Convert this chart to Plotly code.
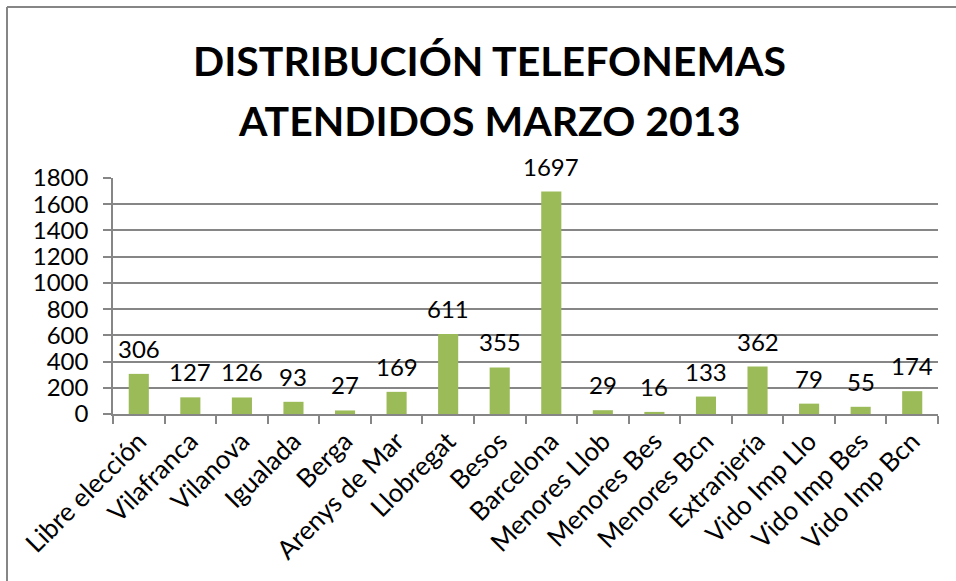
import plotly.graph_objects as go

categories = ["Libre elección", "Vilafranca", "Vilanova", "Igualada", "Berga",
              "Arenys de Mar", "Llobregat", "Besos", "Barcelona", "Menores Llob",
              "Menores Bes", "Menores Bcn", "Extranjería", "Vido Imp Llo",
              "Vido Imp Bes", "Vido Imp Bcn"]
values = [306, 127, 126, 93, 27, 169, 611, 355, 1697, 29, 16, 133, 362, 79, 55, 174]
y_ticks = [0, 200, 400, 600, 800, 1000, 1200, 1400, 1600, 1800]

FONT = "Lato"
W, H = 956, 581
L, R, T, B = 113, 18, 178, 167
pw, ph = W - L - R, H - T - B

fig = go.Figure(go.Bar(x=categories, y=values, marker_color="#9BBB59",
                       marker_line_width=0, hoverinfo="x+y"))

for c, v in zip(categories, values):
    fig.add_annotation(x=c, y=v, text=str(v), showarrow=False, yanchor="bottom",
                       yshift=9, font=dict(family=FONT, size=24, color="#000"))

def px_x(p):
    return (p - L) / pw

def px_y(p):
    return (H - B - p) / ph

fig.add_shape(type="line", xref="paper", yref="paper", x0=px_x(7), x1=px_x(956),
              y0=px_y(7), y1=px_y(7), line=dict(color="#868686", width=2))
fig.add_shape(type="line", xref="paper", yref="paper", x0=px_x(7), x1=px_x(7),
              y0=px_y(7), y1=px_y(581), line=dict(color="#868686", width=2))

for txt, yc in [("DISTRIBUCIÓN TELEFONEMAS", 60), ("ATENDIDOS MARZO 2013", 120)]:
    fig.add_annotation(xref="paper", yref="paper", x=px_x(489), y=px_y(yc),
                       text="<b>" + txt + "</b>",
                       showarrow=False, xanchor="center", yanchor="middle",
                       font=dict(family=FONT, size=41, color="#000"))

fig.update_layout(
    width=W, height=H, margin=dict(l=L, r=R, t=T, b=B),
    paper_bgcolor="white", plot_bgcolor="white", showlegend=False,
    bargap=0.61,
    font=dict(family=FONT, size=24, color="#000"),
)
fig.update_yaxes(range=[0, 1800], tickvals=y_ticks, showgrid=True,
                 gridcolor="#868686", gridwidth=1.5, showline=True,
                 linecolor="#868686", linewidth=1.5, ticks="outside", ticklen=8,
                 tickcolor="#868686", tickwidth=1.5, zeroline=False,
                 ticklabelstandoff=10,
                 tickfont=dict(family=FONT, size=24, color="#000"))
fig.update_xaxes(showline=True, linecolor="#868686", linewidth=1.5,
                 ticks="outside", tickson="boundaries", ticklen=8,
                 tickcolor="#868686", tickwidth=1.5, tickangle=-45,
                 tickfont=dict(family=FONT, size=26, color="#000"))

fig.write_html("out.html", config={"displayModeBar": False},
               post_script="document.body.style.margin='0px';document.body.style.overflow='hidden';")
